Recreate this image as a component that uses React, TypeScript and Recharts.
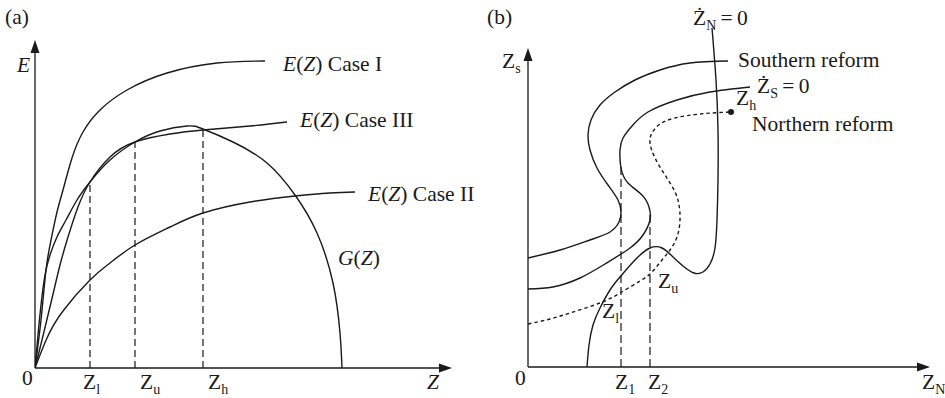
import React from 'react';
import { LineChart, Line, XAxis, YAxis, ReferenceLine, ReferenceDot } from 'recharts';

type Pt = { x: number; y: number };
type Seg = { s: string; it?: boolean; sub?: boolean };

const INK = '#1a1a1a';
const FONT = '"Liberation Serif", "Times New Roman", serif';
const FS = 21.5;
const SUB = 14;

// ---- panel (a): E against Z ----
const caseI: Pt[] = [
    { x: 0, y: 0 }, { x: 6, y: 48 }, { x: 11, y: 98 }, { x: 16, y: 128 }, { x: 22, y: 156 },
    { x: 28, y: 178 }, { x: 37, y: 210 }, { x: 48, y: 236 }, { x: 65, y: 258 }, { x: 92, y: 278 },
    { x: 132, y: 295 }, { x: 182, y: 305 }, { x: 230, y: 307 },
];
const caseIII: Pt[] = [
    { x: 0, y: 0 }, { x: 7, y: 28 }, { x: 13, y: 53 }, { x: 19, y: 78 }, { x: 25, y: 103 },
    { x: 33, y: 131 }, { x: 43, y: 161 }, { x: 55, y: 186 }, { x: 75, y: 211 }, { x: 100, y: 226 },
    { x: 135, y: 234 }, { x: 168, y: 238 }, { x: 215, y: 242 }, { x: 252, y: 246 },
];
const caseII: Pt[] = [
    { x: 0, y: 0 }, { x: 12, y: 30 }, { x: 28, y: 57 }, { x: 55, y: 88 }, { x: 75, y: 105 },
    { x: 100, y: 123 }, { x: 135, y: 141 }, { x: 168, y: 155 }, { x: 215, y: 166 }, { x: 260, y: 172 },
    { x: 295, y: 175 }, { x: 320, y: 176 },
];
const gCurve: Pt[] = [
    { x: 0, y: 0 }, { x: 3, y: 33 }, { x: 6, y: 63 }, { x: 10, y: 93 }, { x: 15, y: 113 },
    { x: 22, y: 131 }, { x: 31, y: 148 }, { x: 42, y: 168 }, { x: 55, y: 186 }, { x: 75, y: 208 },
    { x: 100, y: 226 }, { x: 125, y: 237 }, { x: 152, y: 242 }, { x: 168, y: 239 }, { x: 198, y: 226 },
    { x: 232, y: 205 }, { x: 260, y: 173 }, { x: 282, y: 135 }, { x: 298, y: 85 }, { x: 305, y: 35 },
    { x: 307, y: 0 },
];
const aCuts: Pt[] = [{ x: 55, y: 186 }, { x: 100, y: 226 }, { x: 168, y: 238 }];

// ---- panel (b): Z_S against Z_N ----
const southern: Pt[] = [
    { x: 0, y: 109 }, { x: 32, y: 117 }, { x: 62, y: 127 }, { x: 82, y: 135 }, { x: 91, y: 145 },
    { x: 93, y: 155 }, { x: 90, y: 167 }, { x: 80, y: 182 }, { x: 69, y: 199 }, { x: 62, y: 217 },
    { x: 60, y: 232 }, { x: 63, y: 247 }, { x: 72, y: 262 }, { x: 87, y: 275 }, { x: 107, y: 287 },
    { x: 132, y: 297 }, { x: 162, y: 304 }, { x: 200, y: 306 },
];
const zsNull: Pt[] = [
    { x: 0, y: 78 }, { x: 25, y: 80 }, { x: 52, y: 89 }, { x: 77, y: 103 }, { x: 102, y: 119 },
    { x: 115, y: 132 }, { x: 122, y: 147 }, { x: 121, y: 160 }, { x: 114, y: 172 }, { x: 100, y: 184 },
    { x: 93, y: 199 }, { x: 92, y: 217 }, { x: 95, y: 229 }, { x: 104, y: 241 }, { x: 120, y: 255 },
    { x: 149, y: 267 }, { x: 182, y: 275 }, { x: 222, y: 280 },
];
const northern: Pt[] = [
    { x: 0, y: 43 }, { x: 22, y: 48 }, { x: 42, y: 54 }, { x: 72, y: 64 }, { x: 92, y: 74 },
    { x: 112, y: 86 }, { x: 124, y: 95 }, { x: 134, y: 107 }, { x: 142, y: 117 }, { x: 149, y: 130 },
    { x: 152, y: 147 }, { x: 151, y: 162 }, { x: 147, y: 175 }, { x: 137, y: 192 }, { x: 127, y: 209 },
    { x: 122, y: 224 }, { x: 124, y: 234 }, { x: 132, y: 243 }, { x: 147, y: 249 }, { x: 172, y: 253 },
    { x: 202, y: 255 },
];
const znNull: Pt[] = [
    { x: 59, y: 0 }, { x: 61, y: 22 }, { x: 65, y: 42 }, { x: 72, y: 59 }, { x: 82, y: 77 },
    { x: 92, y: 90 }, { x: 107, y: 107 }, { x: 122, y: 119 }, { x: 134, y: 119 }, { x: 144, y: 111 },
    { x: 155, y: 101 }, { x: 166, y: 94 }, { x: 175, y: 95 }, { x: 182, y: 103 }, { x: 187, y: 119 },
    { x: 189, y: 147 }, { x: 190, y: 187 }, { x: 190, y: 237 }, { x: 188, y: 287 }, { x: 184, y: 339 },
];
const bCuts: Pt[] = [{ x: 93, y: 200 }, { x: 122, y: 154 }];
const northEnd: Pt = { x: 203, y: 255 };

// text labels, anchored at their baseline start in data units
const labelsA: { x: number; y: number; segs: Seg[] }[] = [
    { x: -30, y: 344, segs: [{ s: '(a)' }] },
    { x: -18, y: 296, segs: [{ s: 'E', it: true }] },
    { x: -13, y: -17, segs: [{ s: '0' }] },
    { x: 48, y: -21, segs: [{ s: 'Z' }, { s: 'l', sub: true }] },
    { x: 105, y: -21, segs: [{ s: 'Z' }, { s: 'u', sub: true }] },
    { x: 173, y: -21, segs: [{ s: 'Z' }, { s: 'h', sub: true }] },
    { x: 392, y: -21, segs: [{ s: 'Z', it: true }] },
    { x: 248, y: 297, segs: [{ s: 'E', it: true }, { s: '(' }, { s: 'Z', it: true }, { s: ') Case I' }] },
    { x: 265, y: 241, segs: [{ s: 'E', it: true }, { s: '(' }, { s: 'Z', it: true }, { s: ') Case III' }] },
    { x: 333, y: 167, segs: [{ s: 'E', it: true }, { s: '(' }, { s: 'Z', it: true }, { s: ') Case II' }] },
    { x: 303, y: 103, segs: [{ s: 'G', it: true }, { s: '(' }, { s: 'Z', it: true }, { s: ')' }] },
];
const labelsB: { x: number; y: number; segs: Seg[] }[] = [
    { x: -41, y: 343, segs: [{ s: '(b)' }] },
    { x: -26, y: 299, segs: [{ s: 'Z' }, { s: 's', sub: true }] },
    { x: -13, y: -18, segs: [{ s: '0' }] },
    { x: 87, y: -22, segs: [{ s: 'Z' }, { s: '1', sub: true }] },
    { x: 120, y: -22, segs: [{ s: 'Z' }, { s: '2', sub: true }] },
    { x: 394, y: -22, segs: [{ s: 'Z' }, { s: 'N', sub: true }] },
    { x: 165, y: 342, segs: [{ s: '\u017B' }, { s: 'N', sub: true }, { s: '\u2009=\u20090' }] },
    { x: 210, y: 300, segs: [{ s: 'Southern reform' }] },
    { x: 229, y: 274, segs: [{ s: '\u017B' }, { s: 'S', sub: true }, { s: '\u2009=\u20090' }] },
    { x: 208, y: 262, segs: [{ s: 'Z' }, { s: 'h', sub: true }] },
    { x: 224, y: 236, segs: [{ s: 'Northern reform' }] },
    { x: 130, y: 79, segs: [{ s: 'Z' }, { s: 'u', sub: true }] },
    { x: 74, y: 49, segs: [{ s: 'Z' }, { s: 'l', sub: true }] },
];

function Rich({ cx, cy, segs }: { cx: number; cy: number; segs: Seg[] }) {
    let prevSub = false;
    return (
        <text x={cx} y={cy} fontFamily={FONT} fontSize={FS} fill={INK} style={{ whiteSpace: 'pre' }}>
            {segs.map((g, i) => {
                const dy = g.sub && !prevSub ? 5 : !g.sub && prevSub ? -5 : 0;
                prevSub = !!g.sub;
                return (
                    <tspan key={i} dy={dy} fontSize={g.sub ? SUB : FS} fontStyle={g.it ? 'italic' : 'normal'}>
                        {g.s}
                    </tspan>
                );
            })}
        </text>
    );
}

const arrowRight = (p: any) => <path d={`M${p.cx},${p.cy} l-13,-4.5 l0,9 z`} fill={INK} />;
const arrowUp = (p: any) => <path d={`M${p.cx},${p.cy} l-4.5,13 l9,0 z`} fill={INK} />;

const curve = (data: Pt[], key: string, dash?: string) => (
    <Line key={key} data={data} dataKey="y" type="natural" dot={false} stroke={INK} strokeWidth={1.4}
        strokeDasharray={dash} isAnimationActive={false} />
);

export default function App() {
    return (
        <div style={{ position: 'absolute', left: 0, top: 0, width: 945, height: 398, background: '#fff' }}>
            {/* Panel (b) */}
            <div style={{ position: 'absolute', left: 470, top: 0 }}>
                <LineChart width={475} height={398} margin={{ top: 28, right: 15, bottom: 31, left: 58 }}>
                    <XAxis type="number" dataKey="x" domain={[0, 402]} allowDataOverflow hide />
                    <YAxis type="number" domain={[0, 339]} allowDataOverflow hide />
                    <ReferenceLine segment={[{ x: 0, y: 0 }, { x: 393, y: 0 }]} stroke={INK} strokeWidth={1.3} ifOverflow="visible" />
                    <ReferenceLine segment={[{ x: 0, y: 0 }, { x: 0, y: 309 }]} stroke={INK} strokeWidth={1.3} ifOverflow="visible" />
                    <ReferenceDot x={402} y={0} r={0} ifOverflow="visible" shape={arrowRight} />
                    <ReferenceDot x={0} y={319} r={0} ifOverflow="visible" shape={arrowUp} />
                    {bCuts.map((c, i) => (
                        <ReferenceLine key={`bc${i}`} segment={[{ x: c.x, y: 0 }, { x: c.x, y: c.y }]}
                            stroke={INK} strokeWidth={1.2} strokeDasharray="8 4" ifOverflow="visible" />
                    ))}
                    {curve(southern, 'south')}
                    {curve(zsNull, 'zs')}
                    {curve(northern, 'north', '3.5 3')}
                    {curve(znNull, 'zn')}
                    <ReferenceDot x={northEnd.x} y={northEnd.y} r={3} fill={INK} stroke="none" ifOverflow="visible" />
                    {labelsB.map((l, i) => (
                        <ReferenceDot key={`lb${i}`} x={l.x} y={l.y} r={0} ifOverflow="visible"
                            shape={(p: any) => <Rich cx={p.cx} cy={p.cy} segs={l.segs} />} />
                    ))}
                </LineChart>
            </div>

            {/* Panel (a), drawn last and a little wider so its longest label is not cut */}
            <div style={{ position: 'absolute', left: 0, top: 0 }}>
                <LineChart width={485} height={398} margin={{ top: 40, right: 33, bottom: 30, left: 35 }}>
                    <XAxis type="number" dataKey="x" domain={[0, 417]} allowDataOverflow hide />
                    <YAxis type="number" domain={[0, 328]} allowDataOverflow hide />
                    <ReferenceLine segment={[{ x: 0, y: 0 }, { x: 408, y: 0 }]} stroke={INK} strokeWidth={1.3} ifOverflow="visible" />
                    <ReferenceLine segment={[{ x: 0, y: 0 }, { x: 0, y: 318 }]} stroke={INK} strokeWidth={1.3} ifOverflow="visible" />
                    <ReferenceDot x={417} y={0} r={0} ifOverflow="visible" shape={arrowRight} />
                    <ReferenceDot x={0} y={328} r={0} ifOverflow="visible" shape={arrowUp} />
                    {aCuts.map((c, i) => (
                        <ReferenceLine key={`ac${i}`} segment={[{ x: c.x, y: 0 }, { x: c.x, y: c.y }]}
                            stroke={INK} strokeWidth={1.2} strokeDasharray="7 4" ifOverflow="visible" />
                    ))}
                    {curve(caseI, 'c1')}
                    {curve(caseIII, 'c3')}
                    {curve(caseII, 'c2')}
                    {curve(gCurve, 'g')}
                    {labelsA.map((l, i) => (
                        <ReferenceDot key={`la${i}`} x={l.x} y={l.y} r={0} ifOverflow="visible"
                            shape={(p: any) => <Rich cx={p.cx} cy={p.cy} segs={l.segs} />} />
                    ))}
                </LineChart>
            </div>
        </div>
    );
}
